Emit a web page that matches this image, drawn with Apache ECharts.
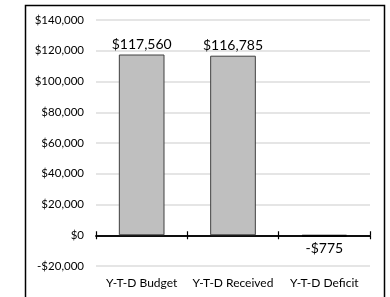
<!DOCTYPE html>
<html>
<head>
<meta charset="utf-8">
<title>Y-T-D</title>
<script src="https://cdn.jsdelivr.net/npm/echarts@6/dist/echarts.min.js"></script>
<style>
  html, body { margin: 0; padding: 0; background: #fff; }
  #main { width: 390px; height: 297px; }
</style>
</head>
<body>
<div id="main"></div>
<script type="text/javascript">
// categories and values
var categories = ['Y-T-D Budget', 'Y-T-D Received', 'Y-T-D Deficit'];
var amounts = [117560, 116785, -775];
var yTicks = [-20000, 0, 20000, 40000, 60000, 80000, 100000, 120000, 140000];

var font = 'Lato, "Open Sans", sans-serif';

function money(v) {
    var s = Math.abs(v).toString().replace(/\B(?=(\d{3})+(?!\d))/g, ',');
    return (v < 0 ? '-$' : '$') + s;
}

var chart = echarts.init(document.getElementById('main'));

// bar data, label under the bar for negative values
var barData = amounts.map(function (v) {
    var item = {
        value: v,
        label: { position: v < 0 ? 'bottom' : 'top', distance: v < 0 ? 5 : 3 }
    };
    if (v < 0) item.itemStyle = { borderColor: '#000', borderWidth: 2 };
    return item;
});

var zeroLine = { show: true, onZero: true, onZeroAxisIndex: 0, lineStyle: { color: '#000', width: 1.5 } };
var crossTick = { show: true, interval: 0, length: 4, lineStyle: { color: '#000', width: 1.2 } };

var option = {
    animation: false,
    graphic: [{
        type: 'rect',
        shape: { x: 25.5, y: 5.5, width: 359, height: 300 },
        style: { fill: 'none', stroke: '#000', lineWidth: 1.5 },
        silent: true
    }],
    grid: { left: 96, right: 20, top: 20, bottom: 31, outerBoundsMode: 'none' },
    xAxis: [
        {
            // category labels at the bottom of the plot
            type: 'category',
            data: categories,
            position: 'bottom',
            axisLine: { show: false, onZero: false },
            axisTick: { show: false },
            axisLabel: { interval: 0, color: '#000', fontFamily: font, fontSize: 12, margin: 11 }
        },
        {
            // zero line, ticks below
            type: 'category',
            data: categories,
            position: 'bottom',
            axisLine: zeroLine,
            axisTick: crossTick,
            axisLabel: { show: false }
        },
        {
            // ticks above the zero line
            type: 'category',
            data: categories,
            position: 'top',
            axisLine: zeroLine,
            axisTick: crossTick,
            axisLabel: { show: false }
        }
    ],
    yAxis: {
        type: 'value',
        min: yTicks[0],
        max: yTicks[yTicks.length - 1],
        interval: 20000,
        axisLine: { show: false },
        axisTick: { show: false },
        splitLine: { lineStyle: { color: '#dcdcdc', width: 1.5 } },
        axisLabel: {
            color: '#000',
            fontFamily: font,
            fontSize: 11.5,
            margin: 12,
            formatter: function (v) { return money(v); }
        }
    },
    series: [{
        type: 'bar',
        xAxisIndex: 0,
        data: barData,
        barWidth: '50%',
        itemStyle: { color: '#bfbfbf', borderColor: '#404040', borderWidth: 1 },
        label: {
            show: true,
            color: '#000',
            fontFamily: font,
            fontSize: 14,
            formatter: function (p) { return money(p.value); }
        }
    }]
};

chart.setOption(option);
</script>
</body>
</html>
